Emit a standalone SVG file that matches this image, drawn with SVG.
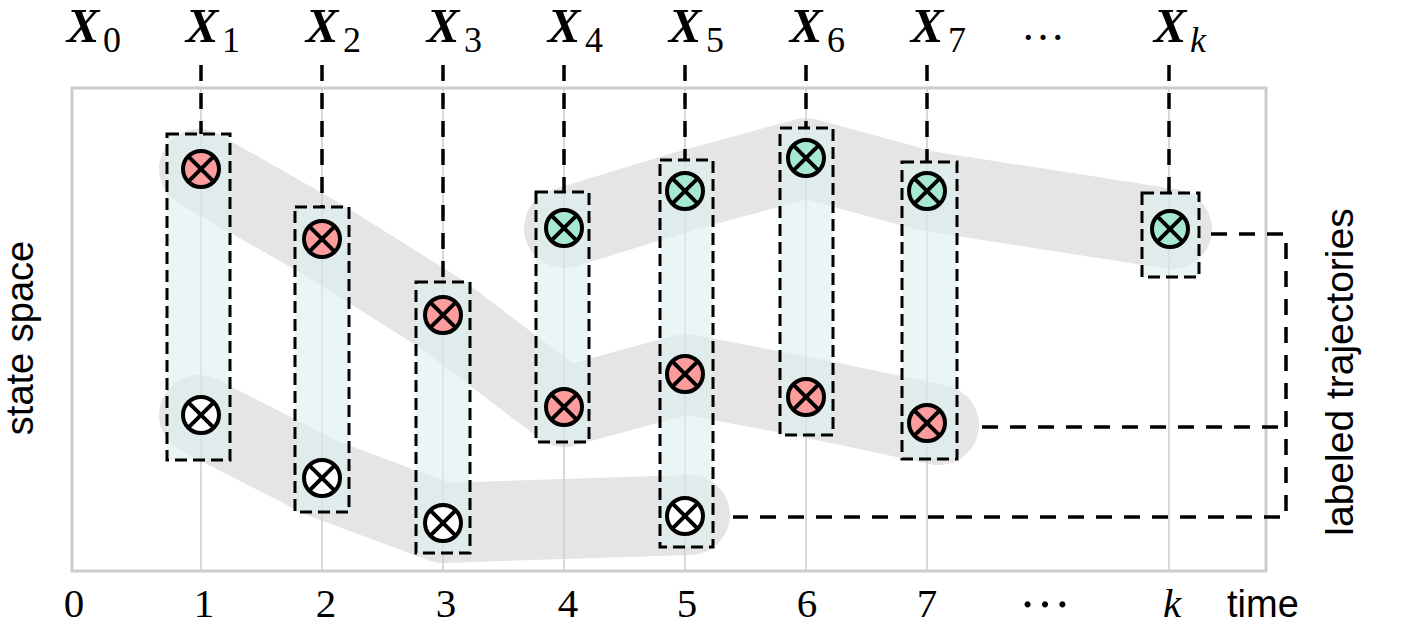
<svg xmlns="http://www.w3.org/2000/svg" width="1418" height="638" viewBox="0 0 1418 638">
<style>
.band{fill:none;stroke:#e5e5e5;stroke-width:80;stroke-linecap:round;stroke-linejoin:round}
.grid{stroke:#cccccc;stroke-width:1.5}
.frame{fill:none;stroke:#cccccc;stroke-width:3}
.box{fill:#dcefef;fill-opacity:0.6;stroke:#000;stroke-width:3;stroke-dasharray:12 6}
.conn{fill:none;stroke:#000;stroke-width:3.5;stroke-dasharray:16 12}
.red{fill:#fc9c9c;stroke:#000;stroke-width:4}
.grn{fill:#a6e8d0;stroke:#000;stroke-width:4}
.wht{fill:#fff;stroke:#000;stroke-width:4}
.x{stroke:#000;stroke-width:4;stroke-linecap:butt}
.X{font-family:"Liberation Serif",serif;font-weight:bold;font-style:italic;font-size:49px}
.sub{font-family:"Liberation Serif",serif;font-size:36px}
.num{font-family:"Liberation Serif",serif;font-size:41px;text-anchor:middle}
.dots{font-family:"Liberation Serif",serif;font-size:52px;text-anchor:middle}
.dotstop{font-family:"Liberation Serif",serif;font-size:44px;text-anchor:middle}
.sans{font-family:"Liberation Sans",Arial,sans-serif;font-size:38px}
.sans39{font-family:"Liberation Sans",Arial,sans-serif;font-size:39px}
</style>
<defs>
<g id="cross"><line class="x" x1="-12.7" y1="-12.7" x2="12.7" y2="12.7"/><line class="x" x1="-12.7" y1="12.7" x2="12.7" y2="-12.7"/></g>
</defs>
<rect width="1418" height="638" fill="#fff"/>
<g id="bands">
<path class="band" d="M199,169 L322,239 L443,315 L564,407 L685,374 L806,397 L939,425"/>
<path class="band" d="M199,415 L322,478 L443,523 L564,519 L690,515"/>
<path class="band" d="M564,228 L685,191 L806,158 L927,191 L1172,229"/>
</g>
<g id="gridlines">
<line class="grid" x1="201" y1="88" x2="201" y2="571"/>
<line class="grid" x1="322" y1="88" x2="322" y2="571"/>
<line class="grid" x1="443" y1="88" x2="443" y2="571"/>
<line class="grid" x1="564" y1="88" x2="564" y2="571"/>
<line class="grid" x1="685" y1="88" x2="685" y2="571"/>
<line class="grid" x1="806" y1="88" x2="806" y2="571"/>
<line class="grid" x1="927" y1="88" x2="927" y2="571"/>
<line class="grid" x1="1169" y1="88" x2="1169" y2="571"/>
</g>
<rect class="frame" x="72" y="88" width="1194" height="483"/>
<g id="connectors">
<line class="conn" x1="201" y1="65" x2="201" y2="134"/>
<line class="conn" x1="322" y1="65" x2="322" y2="207"/>
<line class="conn" x1="443" y1="65" x2="443" y2="282"/>
<line class="conn" x1="564" y1="65" x2="564" y2="192"/>
<line class="conn" x1="685" y1="65" x2="685" y2="160"/>
<line class="conn" x1="806" y1="65" x2="806" y2="128"/>
<line class="conn" x1="927" y1="65" x2="927" y2="162"/>
<line class="conn" x1="1169" y1="65" x2="1169" y2="193"/>
<polyline class="conn" points="1211,234 1286,234 1286,517 733,517"/>
<line class="conn" x1="982" y1="427" x2="1286" y2="427"/>
</g>
<g id="t1">
<rect class="box" x="167" y="134" width="63" height="326"/>
<g id="n1r"><circle class="red" cx="201" cy="169" r="18"/><use href="#cross" x="201" y="169"/></g>
<g id="n1w"><circle class="wht" cx="201" cy="415" r="18"/><use href="#cross" x="201" y="415"/></g>
</g>
<g id="t2">
<rect class="box" x="295" y="207" width="54" height="305"/>
<g id="n2r"><circle class="red" cx="322" cy="239" r="18"/><use href="#cross" x="322" y="239"/></g>
<g id="n2w"><circle class="wht" cx="322" cy="478" r="18"/><use href="#cross" x="322" y="478"/></g>
</g>
<g id="t3">
<rect class="box" x="416" y="282" width="54" height="271"/>
<g id="n3r"><circle class="red" cx="443" cy="315" r="18"/><use href="#cross" x="443" y="315"/></g>
<g id="n3w"><circle class="wht" cx="443" cy="523" r="18"/><use href="#cross" x="443" y="523"/></g>
</g>
<g id="t4">
<rect class="box" x="536" y="192" width="53" height="250"/>
<g id="n4g"><circle class="grn" cx="564" cy="228" r="18"/><use href="#cross" x="564" y="228"/></g>
<g id="n4r"><circle class="red" cx="564" cy="407" r="18"/><use href="#cross" x="564" y="407"/></g>
</g>
<g id="t5">
<rect class="box" x="660" y="160" width="53" height="387"/>
<g id="n5g"><circle class="grn" cx="685" cy="191" r="18"/><use href="#cross" x="685" y="191"/></g>
<g id="n5r"><circle class="red" cx="685" cy="374" r="18"/><use href="#cross" x="685" y="374"/></g>
<g id="n5w"><circle class="wht" cx="685" cy="516" r="18"/><use href="#cross" x="685" y="516"/></g>
</g>
<g id="t6">
<rect class="box" x="780" y="128" width="53" height="307"/>
<g id="n6g"><circle class="grn" cx="806" cy="158" r="18"/><use href="#cross" x="806" y="158"/></g>
<g id="n6r"><circle class="red" cx="806" cy="397" r="18"/><use href="#cross" x="806" y="397"/></g>
</g>
<g id="t7">
<rect class="box" x="902" y="162" width="55" height="297"/>
<g id="n7g"><circle class="grn" cx="927" cy="191" r="18"/><use href="#cross" x="927" y="191"/></g>
<g id="n7r"><circle class="red" cx="927" cy="423" r="18"/><use href="#cross" x="927" y="423"/></g>
</g>
<g id="tk">
<rect class="box" x="1142" y="193" width="57" height="84"/>
<g id="nkg"><circle class="grn" cx="1170" cy="229" r="18"/><use href="#cross" x="1170" y="229"/></g>
</g>
<g id="toplabels">
<text class="X" x="83" y="42" text-anchor="middle">X</text><text class="sub" x="103" y="52">0</text>
<text class="X" x="202" y="42" text-anchor="middle">X</text><text class="sub" x="222" y="52">1</text>
<text class="X" x="322" y="42" text-anchor="middle">X</text><text class="sub" x="343" y="52">2</text>
<text class="X" x="443" y="42" text-anchor="middle">X</text><text class="sub" x="464" y="52">3</text>
<text class="X" x="564" y="42" text-anchor="middle">X</text><text class="sub" x="585" y="52">4</text>
<text class="X" x="685" y="42" text-anchor="middle">X</text><text class="sub" x="706" y="52">5</text>
<text class="X" x="806" y="42" text-anchor="middle">X</text><text class="sub" x="827" y="52">6</text>
<text class="X" x="927" y="42" text-anchor="middle">X</text><text class="sub" x="948" y="52">7</text>
<text class="dotstop" x="1043" y="40">…</text>
<text class="X" x="1170" y="42" text-anchor="middle">X</text><text class="sub" x="1190" y="52" font-style="italic">k</text>
</g>
<g id="axislabels">
<text class="num" x="74" y="617">0</text>
<text class="num" x="204" y="617">1</text>
<text class="num" x="326" y="617">2</text>
<text class="num" x="446" y="617">3</text>
<text class="num" x="568" y="617">4</text>
<text class="num" x="687" y="617">5</text>
<text class="num" x="807" y="617">6</text>
<text class="num" x="927" y="617">7</text>
<text class="dots" x="1045" y="607">…</text>
<text class="num" x="1172" y="617" font-style="italic">k</text>
<text class="sans" x="1227" y="617">time</text>
<text class="sans" transform="translate(33,338) rotate(-90)" text-anchor="middle">state space</text>
<text class="sans39" transform="translate(1353,372) rotate(-90)" text-anchor="middle">labeled trajectories</text>
</g>
</svg>
